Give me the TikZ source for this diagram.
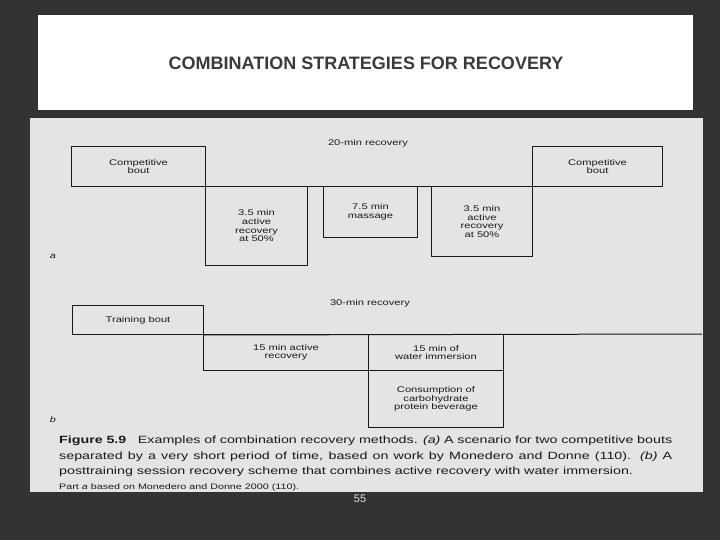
\documentclass[tikz,border=0pt]{standalone}
\usepackage{fontspec}
\setmainfont{Liberation Sans}
\newfontfamily\scanfont[FakeStretch=1.36]{Liberation Sans}
\usepackage{xcolor}
\usetikzlibrary{positioning}
\definecolor{damask}{HTML}{333333}
\definecolor{scanbg}{HTML}{E4E4E4}
\definecolor{ink}{HTML}{1A1A1A}
\definecolor{titlegray}{HTML}{3A3A3A}
\tikzset{
  phase/.style={draw=ink,line width=1pt,inner sep=0pt,anchor=north west,align=center,text=ink,
    font=\scanfont\fontsize{8.2}{8.7}\selectfont},
  tag/.style={text=ink,inner sep=0pt,font=\scanfont\fontsize{8.2}{8.7}\selectfont},
  panel/.style={text=ink,inner sep=0pt,font=\scanfont\itshape\fontsize{8}{9}\selectfont}
}

\begin{document}
\begin{tikzpicture}[x=1pt,y=-1pt]
\fill[damask](0,0)rectangle(720,540);
\useasboundingbox(0,0)rectangle(720,540);
\fill[white](38,15)rectangle(693,110);
\node[text=titlegray,font=\bfseries\fontsize{18}{20}\selectfont](title)at(366,63){COMBINATION STRATEGIES FOR RECOVERY};
\fill[scanbg](30,118)rectangle(703,492);
\node[phase,minimum width=134pt,minimum height=40pt](compA)at(71,146){Competitive\\bout};
\node[phase,minimum width=102pt,minimum height=79pt](activeA)at(205,186){3.5 min\\active\\recovery\\at 50\%};
\node[phase,minimum width=94pt,minimum height=51pt](massage)at(323,186){7.5 min\\massage};
\node[phase,minimum width=101pt,minimum height=70pt](activeB)at(431,186){3.5 min\\active\\recovery\\at 50\%};
\node[phase,minimum width=130pt,minimum height=40pt](compB)at(532,146){Competitive\\bout};
\draw[ink,line width=1pt](compA.south east)--(compB.south west);
\node[tag](twenty)at(368,143){20-min recovery};
\node[panel](parta)at(53,256){a};
\node[phase,minimum width=131pt,minimum height=29pt](training)at(72,305){Training bout};
\node[phase,minimum width=165pt,minimum height=36pt](activeC)at(203,334){15 min active\\recovery};
\node[phase,minimum width=135pt,minimum height=36pt](water)at(368,334){15 min of\\water immersion};
\node[phase,minimum width=135pt,minimum height=57pt](drink)at(368,370){Consumption of\\carbohydrate\\protein beverage};
\coordinate(railend)at(702,334);
\draw[ink,line width=1pt](training.south east)--(railend);
\node[tag](thirty)at(370,303){30-min recovery};
\node[panel](partb)at(53,420){b};
\node[anchor=north west,inner sep=0pt,align=left,text=ink,font=\scanfont\fontsize{10.5}{15.5}\selectfont](caption)at(59,436){%
\hbox to 613pt{\textbf{Figure 5.9}\hspace{1.1em}Examples of combination recovery methods. \textit{(a)} A scenario for two competitive bouts}\\
\hbox to 613pt{separated by a very short period of time, based on work by Monedero and Donne (110). \textit{(b)} A}\\
posttraining session recovery scheme that combines active recovery with water immersion.};
\node[anchor=west,inner sep=0pt,text=ink,font=\scanfont\fontsize{7.9}{9}\selectfont](source)at(59,487){Part \textit{a} based on Monedero and Donne 2000 (110).};
\node[text=gray!25,font=\fontsize{11}{12}\selectfont](pageno)at(360,499){55};
\end{tikzpicture}
\end{document}
